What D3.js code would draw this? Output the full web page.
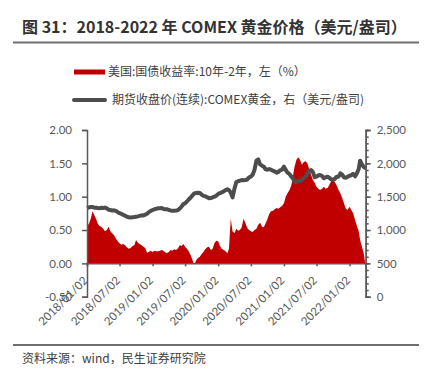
<!DOCTYPE html>
<html>
<head>
<meta charset="utf-8">
<script src="https://cdn.jsdelivr.net/npm/d3@7"></script>
<style>
  body { margin: 0; background: #fff; }
  svg { display: block; }
</style>
</head>
<body>
<div id="chart"></div>
<script>
// x tick labels
const tickLabels = ["2018/01/02", "2018/07/02", "2019/01/02", "2019/07/02", "2020/01/02",
  "2020/07/02", "2021/01/02", "2021/07/02", "2022/01/02"];

// sample days: 2nd, 12th, 22nd of each month, Jan 2018 .. Mar 2022, plus 2022/04/02
const sampleDays = [2, 12, 22];
const dates = [];
for (let y = 2018; y <= 2022; y++) {
  for (let m = 0; m < 12; m++) {
    if (y === 2022 && m > 2) break;
    sampleDays.forEach(d => dates.push(new Date(y, m, d)));
  }
}
dates.push(new Date(2022, 3, 2));

// US 10Y-2Y treasury spread (%), left axis
const spread = [
  // 2018
  0.56, 0.59, 0.66,  0.78, 0.72, 0.66,  0.60, 0.56, 0.55,  0.52, 0.48, 0.50,
  0.55, 0.48, 0.45,  0.42, 0.37, 0.33,  0.30, 0.28, 0.29,  0.27, 0.24, 0.22,
  0.23, 0.26, 0.27,  0.35, 0.31, 0.29,  0.27, 0.25, 0.23,  0.16, 0.17, 0.19,
  // 2019
  0.17, 0.19, 0.18,  0.18, 0.19, 0.20,  0.19, 0.17, 0.15,  0.17, 0.20, 0.19,
  0.21, 0.20, 0.22,  0.27, 0.26, 0.29,  0.25, 0.22, 0.18,  0.12, 0.05, -0.02,
  0.05, 0.08, 0.10,  0.14, 0.17, 0.21,  0.24, 0.25, 0.20,  0.22, 0.30, 0.34,
  // 2020
  0.33, 0.26, 0.22,  0.20, 0.18, 0.15,  0.22, 0.67, 0.48,  0.45, 0.52, 0.49,
  0.50, 0.54, 0.67,  0.60, 0.53, 0.50,  0.48, 0.47, 0.50,  0.52, 0.58, 0.61,
  0.55, 0.54, 0.60,  0.66, 0.74, 0.78,  0.79, 0.81, 0.83,  0.82, 0.84, 0.86,
  // 2021
  0.90, 1.00, 1.05,  1.10, 1.17, 1.32,  1.45, 1.55, 1.59,  1.55, 1.48, 1.52,
  1.53, 1.50, 1.42,  1.33, 1.25, 1.21,  1.15, 1.12, 1.10,  1.12, 1.15, 1.12,
  1.13, 1.18, 1.23,  1.25, 1.22, 1.17,  1.10, 1.05, 0.98,  0.90, 0.82, 0.80,
  // 2022
  0.85, 0.80, 0.75,  0.65, 0.56, 0.48,  0.35, 0.25, 0.15,  -0.05
];

// COMEX gold continuous futures close (USD/oz), right axis
const gold = [
  // 2018
  1330, 1340, 1345,  1345, 1335, 1335,  1330, 1328, 1333,  1330, 1336, 1325,
  1305, 1300, 1292,  1295, 1288, 1268,  1252, 1243, 1228,  1215, 1200, 1190,
  1188, 1192, 1195,  1200, 1205, 1212,  1220, 1218, 1230,  1245, 1268, 1285,
  // 2019
  1300, 1311, 1318,  1326, 1328, 1330,  1318, 1310, 1312,  1300, 1294, 1290,
  1290, 1292, 1296,  1322, 1350, 1388,  1400, 1428, 1458,  1488, 1520, 1548,
  1556, 1560, 1556,  1530, 1512, 1508,  1492, 1478, 1480,  1490, 1500, 1515,
  // 2020
  1540, 1555, 1565,  1580, 1600, 1610,  1600, 1560, 1490,  1625, 1720, 1732,
  1740, 1750, 1748,  1750, 1758, 1790,  1800, 1830, 1900,  2040, 2060, 1985,
  1965, 1950, 1910,  1905, 1915, 1905,  1890, 1878, 1860,  1872, 1895, 1905,
  // 2021
  1950, 1900, 1862,  1840, 1800, 1770,  1722, 1715, 1738,  1730, 1750, 1780,
  1800, 1842, 1888,  1900, 1868, 1792,  1800, 1818, 1825,  1810, 1776, 1790,
  1800, 1782, 1760,  1755, 1766, 1800,  1800, 1850, 1830,  1790, 1785, 1800,
  // 2022
  1815, 1822, 1842,  1805, 1850, 1915,  2040, 1985, 1945,  1922
];

const data = dates.map((d, i) => ({date: d, spread: spread[i], gold: gold[i]}));

const W = 433, H = 376;
const plot = {left: 87, right: 365.7, top: 130, bottom: 296.7};

const svg = d3.select("#chart")
  .append("svg")
    .attr("width", W)
    .attr("height", H);

const cjk = "'Noto Sans CJK SC', 'Noto Sans', sans-serif";
const latin = "Lato, 'Noto Sans CJK SC', sans-serif";
const axisColor = "#595959";

// Title
svg.append("text")
  .attr("x", 22)
  .attr("y", 33)
  .style("font-family", cjk)
  .style("font-size", "16px")
  .style("font-weight", "bold")
  .style("fill", "#333")
  .text("图 31：2018-2022 年 COMEX 黄金价格（美元/盎司）");

svg.append("line")
  .attr("x1", 13).attr("x2", 419)
  .attr("y1", 42.5).attr("y2", 42.5)
  .attr("stroke", "#6f6f6f")
  .attr("stroke-width", 2);

// Scales
const x = d3.scaleTime()
  .domain([new Date(2018, 0, 2), new Date(2022, 3, 2)])
  .range([plot.left, plot.right]);

const yL = d3.scaleLinear()
  .domain([-0.5, 2])
  .range([plot.bottom, plot.top]);

const yR = d3.scaleLinear()
  .domain([0, 2500])
  .range([plot.bottom, plot.top]);

// Spread area
const area = d3.area()
  .x(d => x(d.date))
  .y0(yL(0))
  .y1(d => yL(d.spread));

svg.append("path")
  .datum(data)
  .attr("d", area)
  .attr("fill", "#c00000");

// Gold line
const line = d3.line()
  .x(d => x(d.date))
  .y(d => yR(d.gold));

svg.append("path")
  .datum(data)
  .attr("d", line)
  .attr("fill", "none")
  .attr("stroke", "#4d4d4d")
  .attr("stroke-width", 4)
  .attr("stroke-linejoin", "round");

// Left axis
svg.append("g")
  .attr("transform", `translate(${plot.left},0)`)
  .call(d3.axisLeft(yL)
    .tickValues([-0.5, 0, 0.5, 1, 1.5, 2])
    .tickFormat(d => d.toFixed(2))
    .tickSize(5)
    .tickPadding(10));

// Right axis, minor ticks first
svg.append("g")
  .attr("transform", `translate(${plot.right},0)`)
  .call(d3.axisRight(yR)
    .tickValues(d3.range(0, 2501, 100))
    .tickFormat("")
    .tickSize(3));

svg.append("g")
  .attr("transform", `translate(${plot.right},0)`)
  .call(d3.axisRight(yR)
    .tickValues([0, 500, 1000, 1500, 2000, 2500])
    .tickFormat(d3.format(","))
    .tickSize(5)
    .tickPadding(6));

// Bottom axis on the zero line
const parse = d3.timeParse("%Y/%m/%d");
const gX = svg.append("g")
  .attr("transform", `translate(0,${yL(0)})`)
  .call(d3.axisBottom(x)
    .tickValues(tickLabels.map(parse))
    .tickFormat(d3.timeFormat("%Y/%m/%d"))
    .tickSize(3));

gX.selectAll("text")
  .attr("x", 0)
  .attr("y", 0)
  .attr("dy", "0.35em")
  .attr("text-anchor", "end")
  .attr("transform", "translate(-2,15) rotate(-45)");

svg.selectAll(".domain, .tick line")
  .attr("stroke", axisColor)
  .attr("stroke-width", 1.5);

svg.selectAll(".tick text")
  .style("font-family", latin)
  .style("font-size", "11.5px")
  .style("fill", axisColor);

// Legend
const legend = svg.append("g");

legend.append("rect")
  .attr("x", 74).attr("y", 69.5)
  .attr("width", 31).attr("height", 5)
  .attr("fill", "#c00000");

legend.append("text")
  .attr("x", 108).attr("y", 72)
  .attr("dy", "0.35em")
  .style("font-family", cjk)
  .style("font-size", "12px")
  .style("fill", "#404040")
  .text("美国:国债收益率:10年-2年，左（%）");

legend.append("line")
  .attr("x1", 74).attr("x2", 105)
  .attr("y1", 100).attr("y2", 100)
  .attr("stroke", "#4d4d4d")
  .attr("stroke-width", 4)
  .attr("stroke-linecap", "round");

legend.append("text")
  .attr("x", 112).attr("y", 100)
  .attr("dy", "0.35em")
  .style("font-family", cjk)
  .style("font-size", "12px")
  .style("fill", "#404040")
  .text("期货收盘价(连续):COMEX黄金，右（美元/盎司)");

// Footer
svg.append("line")
  .attr("x1", 13).attr("x2", 419)
  .attr("y1", 345).attr("y2", 345)
  .attr("stroke", "#6f6f6f")
  .attr("stroke-width", 2);

svg.append("text")
  .attr("x", 22).attr("y", 359)
  .attr("dy", "0.35em")
  .style("font-family", cjk)
  .style("font-size", "12px")
  .style("fill", "#404040")
  .text("资料来源：wind，民生证券研究院");
</script>
</body>
</html>
